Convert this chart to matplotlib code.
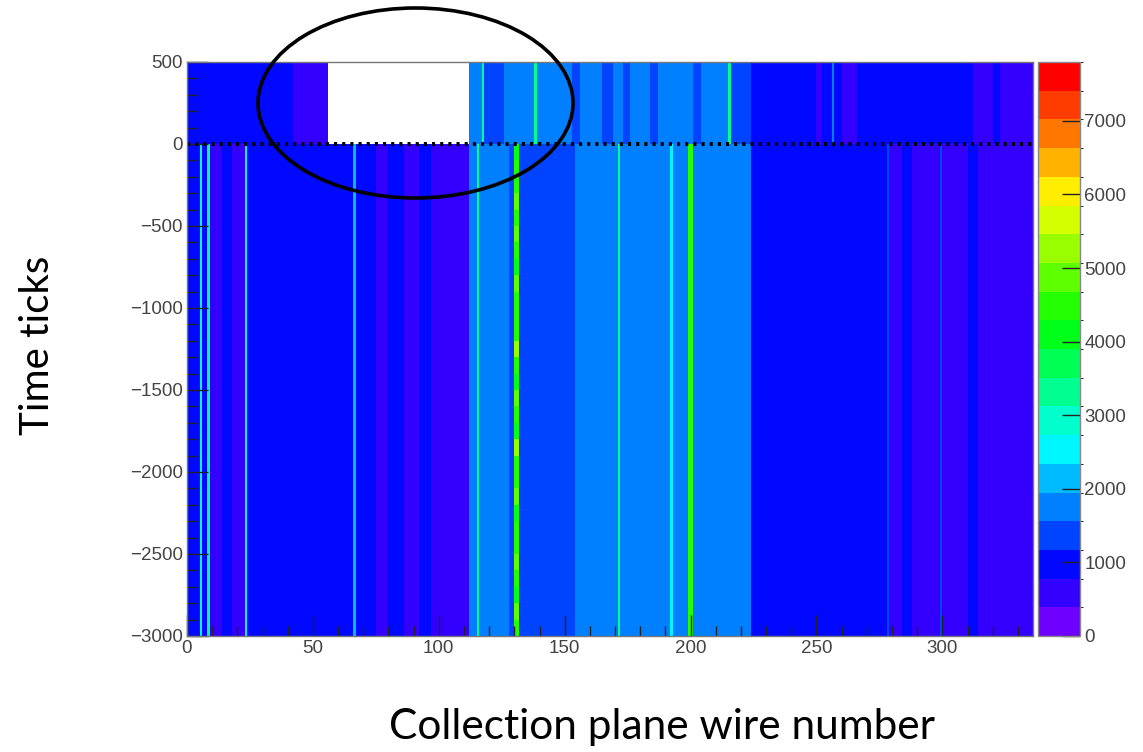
import numpy as np
import matplotlib
matplotlib.use('Agg')
import matplotlib.pyplot as plt
from matplotlib.colors import ListedColormap, BoundaryNorm, hsv_to_rgb
from matplotlib.patches import Ellipse
from matplotlib.ticker import MultipleLocator

# ---------------- data ----------------
n_wires = 336
z_max = 7800
n_levels = 20
y_edges_lower = list(range(-3000, 1, 100))   # 30 bins below 0
y_edges_upper = list(range(0, 501, 100))     # 5 bins above 0

# region below time tick 0: (start wire, end wire, value)
lower_start = [0, 5, 6, 8, 9, 14, 18, 23, 24, 66, 67, 75, 80, 86, 92, 97,
               112, 115, 116, 128, 132, 154, 171, 172, 192, 193, 199, 201,
               224, 278, 279, 284, 288, 299, 300, 310, 314]
lower_end = [5, 6, 8, 9, 14, 18, 23, 24, 66, 67, 75, 80, 86, 92, 97, 112,
             115, 116, 128, 130, 154, 171, 172, 192, 193, 199, 201, 224,
             278, 279, 284, 288, 299, 300, 310, 314, 336]
lower_value = [1000, 2600, 1000, 3300, 700, 900, 700, 2400, 1000, 2300, 1000,
               700, 950, 700, 950, 700, 1750, 3300, 1750, 1400, 1350, 1750,
               3300, 1750, 2600, 1750, 4600, 1750, 1000, 1200, 750, 950, 700,
               1500, 700, 900, 700]

# noisy wires 130-131 below 0, per 100-tick bin from -3000 upward
noisy_wires = [130, 132]
noisy_values = [4300, 4700, 4200, 4500, 5000, 4300, 4600, 4100, 4800, 4400,
                4600, 5100, 4200, 4400, 4700, 4100, 4500, 5200, 4300, 4600,
                4400, 4900, 4100, 4500, 4700, 4300, 5000, 4400, 4600, 4200]

# region above time tick 0 (wires 56-112 empty)
upper_start = [0, 42, 112, 117, 118, 126, 138, 139, 153, 156, 165,
               169, 173, 176, 184, 187, 201, 204, 208, 215, 216, 224, 250,
               252, 256, 257, 260, 266, 312, 320, 323]
upper_end = [42, 56, 117, 118, 126, 138, 139, 153, 156, 165, 169,
             173, 176, 184, 187, 201, 204, 208, 215, 216, 224, 250, 252, 256,
             257, 260, 266, 312, 320, 323, 336]
upper_value = [1000, 650, 1750, 3300, 1350, 1750, 3300, 1750, 1350, 1700,
               1350, 1750, 1350, 1750, 1350, 1750, 1450, 1750, 1750, 3300,
               1350, 1000, 700, 1000, 1700, 1000, 750, 1000, 700, 1000, 700]

x_ticks = [0, 50, 100, 150, 200, 250, 300]
y_ticks = [-3000, -2500, -2000, -1500, -1000, -500, 0, 500]
z_ticks = [0, 1000, 2000, 3000, 4000, 5000, 6000, 7000]

# ---------------- build histogram ----------------
lower_profile = np.full(n_wires, np.nan)
for s, e, v in zip(lower_start, lower_end, lower_value):
    lower_profile[s:e] = v
upper_profile = np.full(n_wires, np.nan)
for s, e, v in zip(upper_start, upper_end, upper_value):
    upper_profile[s:e] = v

n_low = len(y_edges_lower) - 1
n_up = len(y_edges_upper) - 1
Z = np.empty((n_low + n_up, n_wires))
Z[:n_low, :] = lower_profile
Z[:n_low, noisy_wires[0]:noisy_wires[1]] = np.array(noisy_values, float)[:, None]
Z[n_low:, :] = upper_profile
y_edges = np.array(y_edges_lower + y_edges_upper[1:], dtype=float)
x_edges = np.arange(n_wires + 1)

# ROOT-like rainbow palette: violet -> red
hues = np.linspace(266, 0, n_levels) / 360.0
colors = hsv_to_rgb(np.column_stack([hues, np.ones(n_levels), np.ones(n_levels)]))
cmap = ListedColormap(colors)
bounds = np.linspace(0, z_max, n_levels + 1)
norm = BoundaryNorm(bounds, n_levels)

# ---------------- figure ----------------
W, H = 1143, 752
fig = plt.figure(figsize=(W / 100, H / 100), dpi=100)
ax = fig.add_axes([187 / W, 1 - 636 / H, 846 / W, 574 / H])
ax.set_facecolor('white')
mesh = ax.pcolormesh(x_edges, y_edges, np.ma.masked_invalid(Z), cmap=cmap,
                     norm=norm, shading='flat', antialiased=False)
ax.set_xlim(0, n_wires)
ax.set_ylim(-3000, 500)

ax.axhline(0, color='black', lw=2.8, ls=(0, (0.8, 1.3)))

tick_font = dict(family='Liberation Sans', size=13.5, color='#444444')
ax.set_xticks(x_ticks)
ax.set_yticks(y_ticks)
ax.set_xticklabels([str(t) for t in x_ticks], **tick_font)
ax.set_yticklabels([str(t).replace('-', '\u2212') for t in y_ticks], **tick_font)
ax.xaxis.set_minor_locator(MultipleLocator(10))
ax.yaxis.set_minor_locator(MultipleLocator(100))
ax.tick_params(which='both', direction='in', top=False, right=False,
               color='#222222', width=1.0)
ax.tick_params(which='major', length=15, pad=3)
ax.tick_params(which='minor', length=7)
for sp in ax.spines.values():
    sp.set_color('#777777')
    sp.set_linewidth(1.0)

# colour palette
cax = fig.add_axes([1038 / W, 1 - 636 / H, 42 / W, 574 / H])
cb = fig.colorbar(mesh, cax=cax, ticks=z_ticks, spacing='proportional')
cb.outline.set_edgecolor('#888888')
cb.outline.set_linewidth(1.0)
cax.tick_params(direction='in', length=13, width=1.0, color='#222222', pad=3)
cax.set_yticklabels([str(t) for t in z_ticks], **tick_font)

# annotation ellipse
ell = Ellipse((415.5 / W, 1 - 103 / H), 315 / W, 190 / H,
              transform=fig.transFigure, fill=False, edgecolor='black',
              lw=2.6, clip_on=False)
fig.patches.append(ell)

# axis titles
fig.text(662 / W, 1 - 727 / H, 'Collection plane wire number', ha='center',
         va='center', family='Lato', size=30.5, color='black')
fig.text(38 / W, 1 - 345 / H, 'Time ticks', ha='center', va='center',
         rotation=90, family='Lato', size=29, color='black')

fig.savefig('out.png', dpi=100)
